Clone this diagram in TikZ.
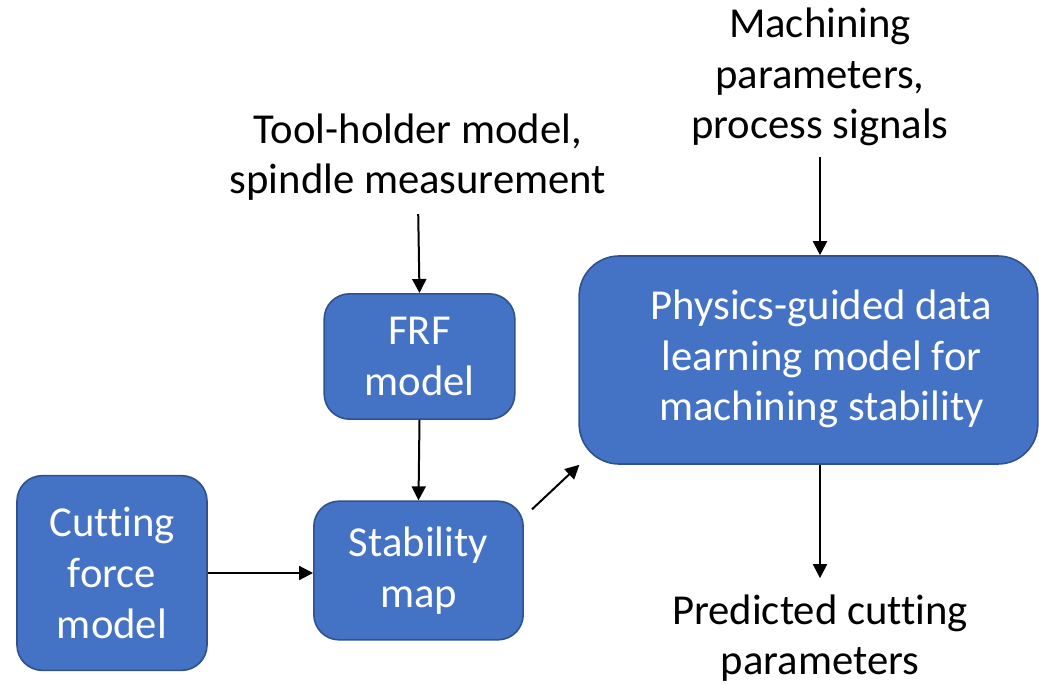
\documentclass[tikz,border=0pt]{standalone}
\usepackage{fontspec}
\setmainfont{Carlito}[RawFeature={-liga;-clig;-calt}]
\usetikzlibrary{arrows.meta}
\definecolor{boxblue}{HTML}{4472C4}
\definecolor{boxedge}{HTML}{2F528F}
\begin{document}
\begin{tikzpicture}[x=0.75pt, y=-0.75pt, line join=round, >={Triangle[length=10.5pt,width=10.5pt]},
	box/.style={draw=boxedge, line width=1.2pt, fill=boxblue, text=white, rounded corners=19pt, align=center, inner sep=0pt, font=\fontsize{32}{38}\selectfont},
	lbl/.style={align=center, inner sep=0pt, font=\fontsize{32}{38}\selectfont},
	arr/.style={->, line width=1.5pt}]
	\useasboundingbox (0,0) rectangle (1039,684);
	\node[box, minimum width=142.5pt, minimum height=146pt] (cut) at (112,573) {Cutting\\force\\model};
	\node[box, minimum width=157pt, minimum height=104pt] (stab) at (418.5,570.5) {Stability\\map};
	\node[box, minimum width=143pt, minimum height=94pt] (frf) at (419.5,356.5) {FRF\\model};
	\node[box, minimum width=344pt, minimum height=156pt, rounded corners=30pt] (phys) at (808.5,360) {\hspace*{19.5pt}\begin{tabular}{@{}c@{}}Physics-guided data\\learning model for\\machining stability\end{tabular}};
	\node[lbl] (tool) at (418,157) {Tool-holder model,\\spindle measurement};
	\node[lbl] (mach) at (820,77) {Machining\\parameters,\\process signals};
	\node[lbl] (pred) at (820,638) {Predicted cutting\\parameters};
	\draw[arr, shorten <=10pt] (tool.south) -- (frf.north);
	\draw[arr] (frf.south) -- (stab.north);
	\draw[arr] (cut.east) -- (cut.east -| stab.west);
	\draw[arr] ([shift={(8,9)}]stab.north east) -- ([shift={(1,0)}]phys.south west);
	\draw[arr, shorten <=8pt] (mach.south) -- (mach.south |- phys.north);
	\draw[arr, shorten >=12pt] (pred.north |- phys.south) -- (pred.north);
\end{tikzpicture}
\end{document}
